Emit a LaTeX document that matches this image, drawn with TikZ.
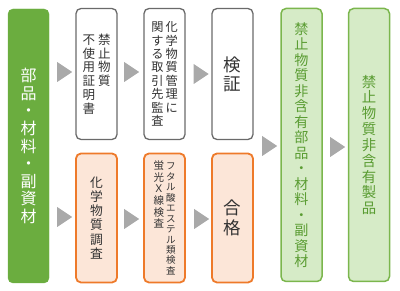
\documentclass[tikz,border=0pt]{standalone}
\usepackage{fontspec}
\newfontfamily\jpfont{Noto Sans CJK JP}
\usetikzlibrary{shapes.geometric}

\definecolor{leafgreen}{HTML}{6BAD3F}
\definecolor{freefill}{HTML}{D6EBC7}
\definecolor{freeborder}{HTML}{7BB64D}
\definecolor{freetext}{HTML}{5A9C32}
\definecolor{testorange}{HTML}{EE7A2A}
\definecolor{testpeach}{HTML}{FCE6D8}
\definecolor{boxgray}{HTML}{6A6A6A}
\definecolor{textgray}{HTML}{333333}
\definecolor{arrowgray}{HTML}{A9A9A9}

% one column of vertical text, one character per line
\makeatletter
\newcommand\tatecol[1]{\vtop{\baselineskip=1.1em\@tfor\tch:=#1\do{\hbox to 1em{\hss\tch\hss}}}}
\makeatother

\begin{document}
\begin{tikzpicture}[
    x=1pt, y=-1pt,
    box/.style={rectangle, rounded corners=5pt, minimum width=41pt, inner sep=0pt, text=textgray},
    partsbox/.style={box, fill=leafgreen, draw=leafgreen, text=white, minimum height=274pt},
    docbox/.style={box, draw=boxgray, line width=1.3pt, fill=white, minimum height=131pt},
    testbox/.style={box, draw=testorange, line width=1.8pt, fill=testpeach, minimum height=129pt},
    freebox/.style={box, draw=freeborder, line width=1.5pt, fill=freefill, text=freetext, minimum height=273pt},
    flow/.style={isosceles triangle, isosceles triangle stretches, fill=arrowgray,
        minimum width=20pt, minimum height=15pt, inner sep=0pt},
    fs/.style={font=\jpfont\fontsize{#1}{#1}\selectfont},
]
\useasboundingbox (0,0) rectangle (400,291);

% =========================================================
% Left: incoming parts
% =========================================================
\node[partsbox, fs=16] (parts) at (28.5,146) {\tatecol{部品・材料・副資材}};

% =========================================================
% Upper row: documents, audit, verification
% =========================================================
\node[docbox, fs=12.5] (cert)   at (96.5,74)  {\tatecol{不使用証明書}\hskip3pt\tatecol{禁止物質}};
\node[docbox, fs=12.2] (audit)  at (164.5,74) {\tatecol{関する取引先監査}\hskip2pt\tatecol{化学物質管理に}};
\node[docbox, fs=17.5] (verify) at (232.5,74) {\tatecol{検証}};

% =========================================================
% Lower row: chemical tests
% =========================================================
\node[testbox, fs=12.8] (survey) at (96.5,218)  {\tatecol{化学物質調査}};
\node[testbox, fs=10]   (xray)   at (164.5,218) {{\fontsize{10.5}{10.5}\selectfont\tatecol{蛍光Ｘ線検査}}\hskip2pt{\fontsize{9.5}{9.5}\selectfont\tatecol{フタル酸エステル類検査}}};
\node[testbox, fs=17.5] (pass)   at (232.5,218) {\tatecol{合格}};

% =========================================================
% Right: results
% =========================================================
\node[freebox, fs=14.1] (freeparts)   at (301.5,145) {\tatecol{禁止物質非含有部品・材料・副資材}};
\node[freebox, fs=14.4] (freeproduct) at (369,145)   {\tatecol{禁止物質非含有製品}};

% flow arrows
\node[flow] (a1) at (62.5,72)   {};
\node[flow] (a2) at (129.5,72)  {};
\node[flow] (a3) at (199,74)    {};
\node[flow] (a4) at (62.5,217)  {};
\node[flow] (a5) at (129.5,219) {};
\node[flow] (a6) at (199.5,219) {};
\node[flow] (a7) at (267.5,146) {};
\node[flow] (a8) at (335.5,147) {};

\end{tikzpicture}
\end{document}
